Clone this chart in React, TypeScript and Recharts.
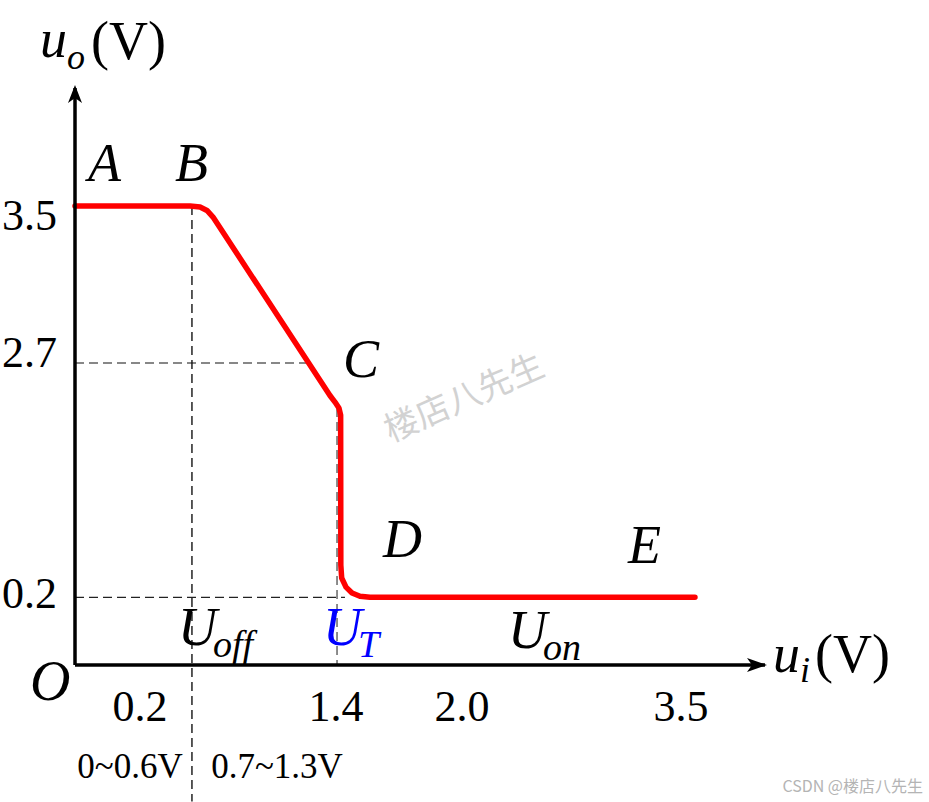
import React from 'react'
import { ComposedChart, Line, XAxis, YAxis, ReferenceLine, ReferenceDot } from 'recharts'

// transfer curve u_o vs u_i (schematic units)
const curveUi = [0, 0.667, 0.725, 0.765, 0.8, 1.478, 1.507, 1.53, 1.54, 1.541, 1.546, 1.571, 1.606, 1.652, 1.71, 3.594]
const curveUo = [3.5, 3.5, 3.492, 3.466, 3.416, 2.055, 2.005, 1.96, 1.906, 0.762, 0.663, 0.594, 0.549, 0.524, 0.516, 0.516]

const xTickAt = [0.377, 1.513, 2.243, 3.513]
const xTickText = ['0.2', '1.4', '2.0', '3.5']
const yTickAt = [3.43, 2.387, 0.549]
const yTickText = ['3.5', '2.7', '0.2']

// point letters on the curve
const pointNames = ['A', 'B', 'C', 'D', 'E']
const pointUi = [0.075, 0.58, 1.554, 1.786, 3.206]
const pointUo = [3.691, 3.691, 2.196, 0.824, 0.778]

// threshold labels U_off, U_T, U_on
const thrSub = ['off', 'T', 'on']
const thrUi = [0.597, 1.438, 2.51]
const thrUo = [0.152, 0.152, 0.13]

// input ranges under the axis
const rangeText = ['0~0.6V', '0.7~1.3V']
const rangeUi = [0.319, 1.171]
const rangeUo = -0.862

// dashed guides [ui1, uo1, ui2, uo2]
const guideOff = [0.678, 3.5, 0.678, -1.04]
const guide27 = [0, 2.303, 1.345, 2.303]
const guideT = [1.519, 1.96, 1.519, 0]
const guide02 = [0, 0.516, 1.565, 0.516]

const data = curveUi.map((ui, i) => ({ ui, uo: curveUo[i] }))

const SERIF = '"Liberation Serif", "Times New Roman", serif'

const seg = (g: number[]) => [{ x: g[0], y: g[1] }, { x: g[2], y: g[3] }] as any

const XTick = (p: any) => {
  const i = xTickAt.indexOf(p.payload.value)
  return (
    <text x={p.x} y={p.y} dy="0.7em" textAnchor="middle" fontFamily={SERIF} fontSize={44} fill="#000">
      {xTickText[i]}
    </text>
  )
}

const YTick = (p: any) => {
  const i = yTickAt.indexOf(p.payload.value)
  return (
    <text x={p.x} y={p.y} dy="0.34em" textAnchor="end" fontFamily={SERIF} fontSize={44} fill="#000">
      {yTickText[i]}
    </text>
  )
}

const UpArrow = (p: any) => (
  <path d={`M${p.cx},${p.cy - 3} L${p.cx - 7},${p.cy + 15} L${p.cx},${p.cy + 10} L${p.cx + 7},${p.cy + 15} Z`} fill="#000" />
)
const RightArrow = (p: any) => (
  <path d={`M${p.cx + 2},${p.cy} L${p.cx - 18},${p.cy - 7} L${p.cx - 13},${p.cy} L${p.cx - 18},${p.cy + 7} Z`} fill="#000" />
)

export default function App() {
  return (
    <div style={{ position: 'absolute', left: 0, top: 0, width: 929, height: 802, background: '#fff' }}>
      <ComposedChart width={929} height={802} data={data} margin={{ top: 88, right: 164, bottom: 0, left: 0 }}>
        <XAxis
          dataKey="ui"
          type="number"
          domain={[0, 4]}
          ticks={xTickAt}
          interval={0}
          height={137}
          tickLine={false}
          tickSize={6}
          tickMargin={19}
          axisLine={{ stroke: '#000', strokeWidth: 3.5 }}
          tick={<XTick />}
        />
        <YAxis
          type="number"
          domain={[0, 4.4]}
          ticks={yTickAt}
          interval={0}
          width={75}
          tickLine={false}
          tickSize={6}
          tickMargin={12}
          axisLine={{ stroke: '#000', strokeWidth: 3.5 }}
          tick={<YTick />}
        />

        <ReferenceLine segment={seg(guideOff)} ifOverflow="visible" stroke="#000" strokeWidth={1.3} strokeDasharray="9 5" />
        <ReferenceLine segment={seg(guide27)} ifOverflow="visible" stroke="#111" strokeWidth={1.2} strokeDasharray="9 5" />
        <ReferenceLine segment={seg(guideT)} ifOverflow="visible" stroke="#707070" strokeWidth={1.6} strokeDasharray="9 5" />
        <ReferenceLine segment={seg(guide02)} ifOverflow="visible" stroke="#222" strokeWidth={1.2} strokeDasharray="9 5" />

        <Line
          dataKey="uo"
          type="linear"
          stroke="#ff0000"
          strokeWidth={5.5}
          strokeLinecap="round"
          strokeLinejoin="round"
          dot={false}
          activeDot={false}
          isAnimationActive={false}
        />

        <ReferenceDot x={0} y={4.4} r={0} ifOverflow="visible" shape={UpArrow} />
        <ReferenceDot x={4} y={0} r={0} ifOverflow="visible" shape={RightArrow} />

        {pointNames.map((n, i) => (
          <ReferenceDot
            key={n}
            x={pointUi[i]}
            y={pointUo[i]}
            r={0}
            ifOverflow="visible"
            shape={(p: any) => (
              <text x={p.cx} y={p.cy} fontFamily={SERIF} fontStyle="italic" fontSize={54} fill="#000">{n}</text>
            )}
          />
        ))}

        {thrSub.map((s, i) => (
          <ReferenceDot
            key={s}
            x={thrUi[i]}
            y={thrUo[i]}
            r={0}
            ifOverflow="visible"
            shape={(p: any) => (
              <text x={p.cx} y={p.cy} fontFamily={SERIF} fontStyle="italic" fontSize={54} fill={s === 'T' ? '#0000ff' : '#000'}>
                U<tspan fontSize={38} dx={-4} dy={12}>{s}</tspan>
              </text>
            )}
          />
        ))}

        {rangeText.map((t, i) => (
          <ReferenceDot
            key={t}
            x={rangeUi[i]}
            y={rangeUo}
            r={0}
            ifOverflow="visible"
            shape={(p: any) => (
              <text x={p.cx} y={p.cy} textAnchor="middle" fontFamily={SERIF} fontSize={35} fill="#000">{t}</text>
            )}
          />
        ))}

        <ReferenceDot
          x={-0.261}
          y={-0.267}
          r={0}
          ifOverflow="visible"
          shape={(p: any) => (
            <text x={p.cx} y={p.cy} fontFamily={SERIF} fontStyle="italic" fontSize={56} fill="#000">O</text>
          )}
        />

        <ReferenceDot
          x={-0.203}
          y={4.637}
          r={0}
          ifOverflow="visible"
          shape={(p: any) => (
            <text x={p.cx} y={p.cy} fontFamily={SERIF} fontSize={54} fill="#000">
              <tspan fontStyle="italic">u</tspan>
              <tspan fontStyle="italic" fontSize={36} dy={12}>o</tspan>
              <tspan dx={6} dy={-10}>(V)</tspan>
            </text>
          )}
        />

        <ReferenceDot
          x={4.046}
          y={-0.053}
          r={0}
          ifOverflow="visible"
          shape={(p: any) => (
            <text x={p.cx} y={p.cy} fontFamily={SERIF} fontSize={54} fill="#000">
              <tspan fontStyle="italic">u</tspan>
              <tspan fontStyle="italic" fontSize={36} dy={10}>i</tspan>
              <tspan dx={5} dy={-10}>(V)</tspan>
            </text>
          )}
        />

        <ReferenceDot
          x={2.261}
          y={2.021}
          r={0}
          ifOverflow="visible"
          shape={(p: any) => (
            <text
              x={p.cx}
              y={p.cy}
              textAnchor="middle"
              dominantBaseline="middle"
              transform={`rotate(-23.6 ${p.cx} ${p.cy})`}
              fontFamily='"Noto Sans CJK SC", sans-serif'
              fontSize={34}
              fill="#d2d2d2"
            >
              楼店八先生
            </text>
          )}
        />

        <ReferenceDot
          x={4.916}
          y={-0.968}
          r={0}
          ifOverflow="visible"
          shape={(p: any) => (
            <text x={p.cx} y={p.cy} textAnchor="end" fontFamily='"Noto Sans CJK SC", "Noto Sans", sans-serif' fontSize={16} fill="#b4b4b4">
              CSDN @楼店八先生
            </text>
          )}
        />
      </ComposedChart>
    </div>
  )
}
